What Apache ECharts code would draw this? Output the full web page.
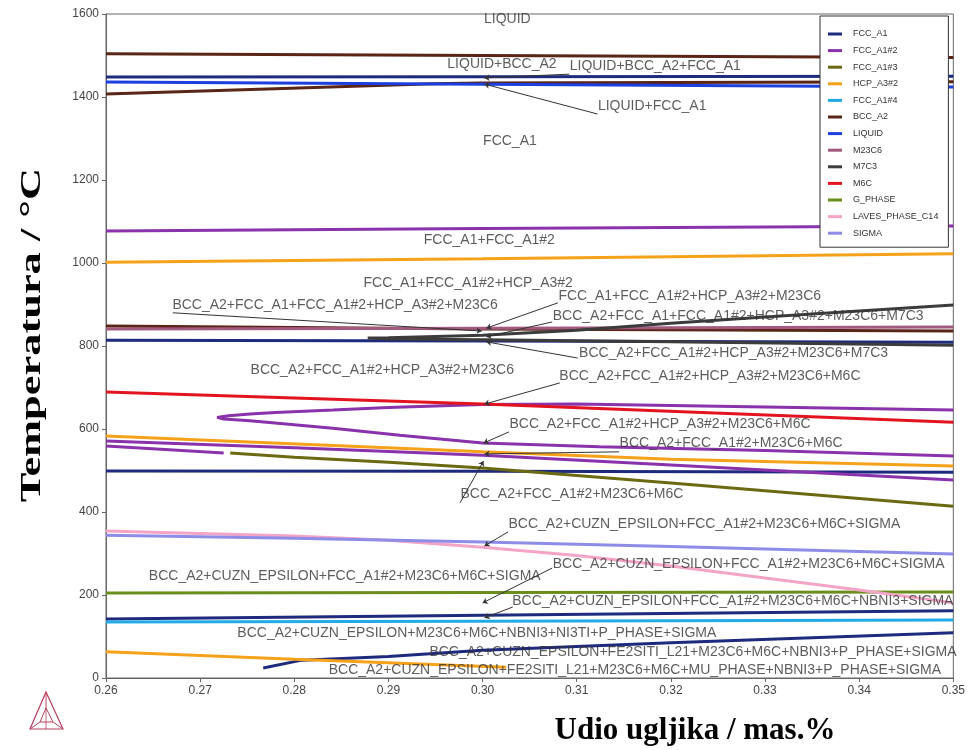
<!DOCTYPE html>
<html>
<head>
<meta charset="utf-8">
<script src="https://cdn.jsdelivr.net/npm/echarts@6/dist/echarts.min.js"></script>
<style>html,body{margin:0;padding:0;background:#fff}#c{width:968px;height:750px}</style>
</head>
<body>
<div id="c"></div>
<script>
// ---------- data ----------
const phases = ['FCC_A1','FCC_A1#2','FCC_A1#3','HCP_A3#2','FCC_A1#4','BCC_A2','LIQUID','M23C6','M7C3','M6C','G_PHASE','LAVES_PHASE_C14','SIGMA'];
const xTicks = [0.26,0.27,0.28,0.29,0.30,0.31,0.32,0.33,0.34,0.35];
const yTicks = [0,200,400,600,800,1000,1200,1400,1600];

const fccHigh   = [[0.26,1448],[0.30,1449],[0.35,1450]];
const fccMid    = [[0.26,814],[0.30,812],[0.35,809]];
const fccLow    = [[0.26,499],[0.30,498],[0.35,496]];
const fccBottom = [[0.26,142],[0.30,151],[0.35,162]];
const fccLowest = [[0.2767,24],[0.2808,43],[0.29,52],[0.30,67],[0.32,85],[0.35,109]];

const fcc2Top   = [[0.26,1077],[0.30,1083],[0.35,1089]];
const fcc2Loop  = [[0.35,646],[0.33,653],[0.31,660],[0.30,659],[0.29,652],[0.2841,646],[0.278,640],[0.2753,636],[0.273,632],[0.2718,628],[0.2725,624],[0.2753,620],[0.2841,602],[0.2912,585],[0.30,566],[0.3124,557],[0.33,548],[0.35,535]];
const fcc2Low   = [[0.26,571],[0.28,555],[0.30,537],[0.32,513],[0.35,477]];
const fcc2Short = [[0.26,559],[0.2725,542]];

const fcc3      = [[0.2732,542],[0.28,532],[0.29,520],[0.30,506],[0.32,470],[0.35,414]];

const hcpTop    = [[0.26,1002],[0.30,1010],[0.35,1022]];
const hcpMid    = [[0.26,583],[0.30,545],[0.32,527],[0.35,511]];
const hcpBottom = [[0.26,63],[0.28,45],[0.3025,26]];

const fcc4      = [[0.26,135],[0.30,137],[0.35,140]];

const bccTop    = [[0.26,1504],[0.30,1500],[0.35,1495]];
const bccLiq    = [[0.26,1407],[0.2771,1419],[0.2947,1432],[0.30,1434],[0.35,1437]];
const bccMid    = [[0.26,848],[0.30,841],[0.35,836]];

const liquid    = [[0.26,1436],[0.30,1431],[0.35,1424]];
const m23c6     = [[0.26,841],[0.30,843],[0.35,846]];
const m7c3      = [[0.35,899],[0.33,870],[0.32,855],[0.31,838],[0.30,826],[0.29,820],[0.2878,819],[0.29,817],[0.30,815],[0.32,810],[0.35,802]];
const m6c       = [[0.26,689],[0.30,660],[0.35,616]];
const gPhase    = [[0.26,205],[0.30,206],[0.35,207]];
const laves     = [[0.26,354],[0.28,342],[0.29,332],[0.30,315],[0.31,295],[0.32,270],[0.33,241],[0.34,212],[0.35,181]];
const sigma     = [[0.26,344],[0.28,337],[0.30,328],[0.32,317],[0.35,299]];

// region labels: [x, T, text] (left edge of text)
const regionLabels = [
  [0.3001,1588,'LIQUID'],
  [0.2962,1480,'LIQUID+BCC_A2'],
  [0.3092,1475,'LIQUID+BCC_A2+FCC_A1'],
  [0.3122,1378,'LIQUID+FCC_A1'],
  [0.3000,1294,'FCC_A1'],
  [0.2937,1055,'FCC_A1+FCC_A1#2'],
  [0.2873,952,'FCC_A1+FCC_A1#2+HCP_A3#2'],
  [0.2670,899,'BCC_A2+FCC_A1+FCC_A1#2+HCP_A3#2+M23C6'],
  [0.3080,920,'FCC_A1+FCC_A1#2+HCP_A3#2+M23C6'],
  [0.3074,872,'BCC_A2+FCC_A1+FCC_A1#2+HCP_A3#2+M23C6+M7C3'],
  [0.3102,783,'BCC_A2+FCC_A1#2+HCP_A3#2+M23C6+M7C3'],
  [0.2753,742,'BCC_A2+FCC_A1#2+HCP_A3#2+M23C6'],
  [0.3081,728,'BCC_A2+FCC_A1#2+HCP_A3#2+M23C6+M6C'],
  [0.3028,612,'BCC_A2+FCC_A1#2+HCP_A3#2+M23C6+M6C'],
  [0.3145,566,'BCC_A2+FCC_A1#2+M23C6+M6C'],
  [0.2976,443,'BCC_A2+FCC_A1#2+M23C6+M6C'],
  [0.3027,371,'BCC_A2+CUZN_EPSILON+FCC_A1#2+M23C6+M6C+SIGMA'],
  [0.2645,246,'BCC_A2+CUZN_EPSILON+FCC_A1#2+M23C6+M6C+SIGMA'],
  [0.3074,275,'BCC_A2+CUZN_EPSILON+FCC_A1#2+M23C6+M6C+SIGMA'],
  [0.3031,186,'BCC_A2+CUZN_EPSILON+FCC_A1#2+M23C6+M6C+NBNI3+SIGMA'],
  [0.2739,108,'BCC_A2+CUZN_EPSILON+M23C6+M6C+NBNI3+NI3TI+P_PHASE+SIGMA'],
  [0.2943,63,'BCC_A2+CUZN_EPSILON+FE2SITI_L21+M23C6+M6C+NBNI3+P_PHASE+SIGMA'],
  [0.2836,19,'BCC_A2+CUZN_EPSILON+FE2SITI_L21+M23C6+M6C+MU_PHASE+NBNI3+P_PHASE+SIGMA']
];

// pointer arrows: [x1, T1, x2, T2] (from label to region)
const arrows = [
  [0.3092,1455,0.3002,1446],
  [0.3122,1359,0.3002,1431],
  [0.2671,880,0.2999,836],
  [0.3080,904,0.3004,843],
  [0.3074,858,0.3004,822],
  [0.3101,771,0.3004,810],
  [0.3082,711,0.3002,660],
  [0.3028,593,0.3001,566],
  [0.3145,545,0.3002,540],
  [0.2976,422,0.3001,523],
  [0.3027,352,0.3002,318],
  [0.3074,265,0.3000,181],
  [0.3032,171,0.3002,145]
];

// ---------- styling ----------
const colors = {
  'FCC_A1':'#1e2a7e','FCC_A1#2':'#8a32ab','FCC_A1#3':'#6b6a12','HCP_A3#2':'#f5a21a',
  'FCC_A1#4':'#22abe6','BCC_A2':'#5a2416','LIQUID':'#1c3fe0','M23C6':'#a25a7e',
  'M7C3':'#3c3c3c','M6C':'#e3141f','G_PHASE':'#6a8e1c','LAVES_PHASE_C14':'#f4a4c6','SIGMA':'#8d8de8'
};
const curves = [
  ['FCC_A1',fccHigh],['FCC_A1',fccMid],['FCC_A1',fccLow],['FCC_A1',fccBottom],['FCC_A1',fccLowest],
  ['FCC_A1#2',fcc2Top],['FCC_A1#2',fcc2Loop],['FCC_A1#2',fcc2Low],['FCC_A1#2',fcc2Short],
  ['FCC_A1#3',fcc3],
  ['HCP_A3#2',hcpTop],['HCP_A3#2',hcpMid],['HCP_A3#2',hcpBottom],
  ['FCC_A1#4',fcc4],
  ['BCC_A2',bccTop],['BCC_A2',bccLiq],['BCC_A2',bccMid],
  ['LIQUID',liquid],['M23C6',m23c6],['M7C3',m7c3],['M6C',m6c],
  ['G_PHASE',gPhase],['LAVES_PHASE_C14',laves],['SIGMA',sigma]
];

const series = [];
phases.forEach(p => {
  curves.filter(c => c[0] === p).forEach(c => {
    series.push({
      name: p, type: 'line', data: c[1], showSymbol: false, symbol: 'none',
      lineStyle: { color: colors[p], width: 3 }, itemStyle: { color: colors[p] },
      silent: true, z: 2
    });
  });
});
series.push({
  name: 'arrows', type: 'lines', coordinateSystem: 'cartesian2d', z: 5, silent: true,
  symbol: ['none','arrow'], symbolSize: 5,
  lineStyle: { color: '#333', width: 1, opacity: 1, curveness: 0 },
  data: arrows.map(a => ({ coords: [[a[0],a[1]],[a[2],a[3]]] }))
});
series.push({
  name: 'labels', type: 'scatter', z: 6, silent: true, symbolSize: 1,
  itemStyle: { color: 'rgba(0,0,0,0)' },
  label: { show: true, position: 'right', distance: 0, formatter: p => p.data[2],
    color: '#333', fontSize: 14, fontFamily: 'Liberation Sans, Arial, sans-serif' },
  data: regionLabels
});

const chart = echarts.init(document.getElementById('c'), null, { renderer: 'canvas' });
chart.setOption({
  animation: false,
  backgroundColor: '#fff',
  grid: { left: 106, right: 14, top: 14, bottom: 72, show: true, borderColor: '#666', borderWidth: 1 },
  xAxis: {
    type: 'value', min: xTicks[0], max: xTicks[xTicks.length-1], interval: 0.01,
    axisLine: { lineStyle: { color: '#666' } },
    axisTick: { length: 4, lineStyle: { color: '#666' } },
    splitLine: { show: false },
    axisLabel: { formatter: v => v.toFixed(2), color: '#444', fontSize: 12, margin: 7, fontFamily: 'Liberation Sans, Arial, sans-serif' }
  },
  yAxis: {
    type: 'value', min: yTicks[0], max: yTicks[yTicks.length-1], interval: 200,
    axisLine: { show: true, lineStyle: { color: '#666' } },
    axisTick: { show: true, length: 4, lineStyle: { color: '#666' } },
    splitLine: { show: false },
    axisLabel: { formatter: v => String(v), color: '#444', fontSize: 12, margin: 7, fontFamily: 'Liberation Sans, Arial, sans-serif' }
  },
  legend: {
    data: phases, orient: 'vertical', left: 820, top: 16,
    padding: [12, 10, 8, 8], itemGap: 4.6, itemWidth: 14, itemHeight: 3, icon: 'rect',
    borderColor: '#333', borderWidth: 1, backgroundColor: '#fff',
    textStyle: { fontSize: 9, color: '#333', lineHeight: 12, padding: [0,0,0,6], fontFamily: 'Liberation Sans, Arial, sans-serif' },
    selectedMode: false
  },
  graphic: [
    { type: 'text', x: 32, y: 335, rotation: Math.PI / 2, scaleX: 1.48, z: 10,
      style: { text: 'Temperatura / °C', font: 'bold 30px "Liberation Serif", "Times New Roman", serif', fill: '#000', align: 'center', verticalAlign: 'middle' } },
    { type: 'text', x: 695, y: 731, z: 10,
      style: { text: 'Udio ugljika / mas.%', font: 'bold 31px "Liberation Serif", "Times New Roman", serif', fill: '#000', align: 'center', verticalAlign: 'middle' } },
    { type: 'group', z: 10, children: [
      { type: 'polygon', shape: { points: [[46,692],[30,729],[63,729]] }, style: { fill: 'none', stroke: '#b8405e', lineWidth: 1.2 } },
      { type: 'polygon', shape: { points: [[46,708],[40,722],[53,722]] }, style: { fill: 'none', stroke: '#b8405e', lineWidth: 1 } },
      { type: 'polyline', shape: { points: [[46,692],[46,708]] }, style: { stroke: '#b8405e', lineWidth: 1 } },
      { type: 'polyline', shape: { points: [[30,729],[40,722]] }, style: { stroke: '#b8405e', lineWidth: 1 } },
      { type: 'polyline', shape: { points: [[63,729],[53,722]] }, style: { stroke: '#b8405e', lineWidth: 1 } },
      { type: 'polyline', shape: { points: [[46,708],[46,729]] }, style: { stroke: '#b8405e', lineWidth: 0.8 } }
    ]}
  ],
  series: series
});
</script>
</body>
</html>
